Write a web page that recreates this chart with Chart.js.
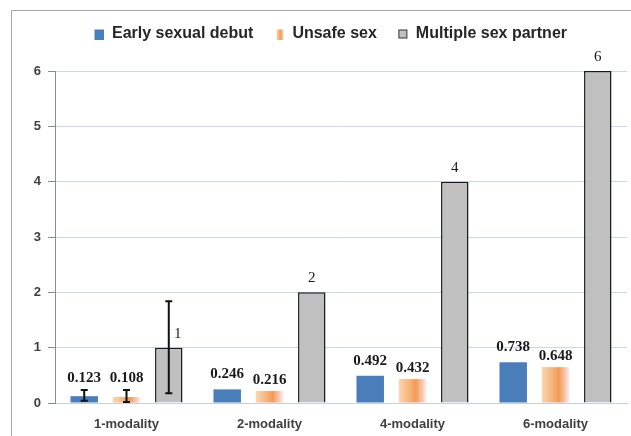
<!DOCTYPE html>
<html>
<head>
<meta charset="utf-8">
<script src="https://cdn.jsdelivr.net/npm/chart.js@4/dist/chart.umd.min.js"></script>
<style>
  html, body { margin: 0; padding: 0; background: #fff; overflow: hidden; }
  canvas { display: block; }
</style>
</head>
<body>
<canvas id="chart" width="631" height="436"></canvas>
<script>
// ------------------------------------------------------------------
// Data
// ------------------------------------------------------------------
const categories = ['1-modality', '2-modality', '4-modality', '6-modality'];
const seriesNames = ['Early sexual debut', 'Unsafe sex', 'Multiple sex partner'];

const earlyDebut = [0.123, 0.246, 0.492, 0.738];
const unsafeSex  = [0.108, 0.216, 0.432, 0.648];
const multiple   = [1, 2, 4, 6];

// [low, high] error ranges, only shown for the first category
const earlyErr    = [[0.04, 0.235], null, null, null];
const unsafeErr   = [[0.02, 0.235], null, null, null];
const multipleErr = [[0.175, 1.84], null, null, null];

const yTicks = [0, 1, 2, 3, 4, 5, 6];

// ------------------------------------------------------------------
// Styles
// ------------------------------------------------------------------
const BLUE = '#4a7ebb';
const GRAY = '#c0c0c0';

function orangeGradient(ctx, x0, x1) {
  const g = ctx.createLinearGradient(x0, 0, x1, 0);
  g.addColorStop(0,    '#fbd6b3');
  g.addColorStop(0.3,  '#f8bc86');
  g.addColorStop(0.62, '#f39a55');
  g.addColorStop(0.85, '#f9c7ad');
  g.addColorStop(1,    '#fdecef');
  return g;
}

function legendIcon(kind) {
  const c = document.createElement('canvas');
  c.width = 11; c.height = 11;
  const g = c.getContext('2d');
  if (kind === 0) {
    g.fillStyle = BLUE;
    g.fillRect(1, 1, 10, 10);
  } else if (kind === 1) {
    g.fillStyle = orangeGradient(g, 2, 10);
    g.fillRect(3, 1, 7, 10);
  } else {
    g.fillStyle = GRAY;
    g.fillRect(1.5, 1.5, 8, 8);
    g.strokeStyle = '#333';
    g.lineWidth = 1;
    g.strokeRect(1.5, 1.5, 8, 8);
  }
  return c;
}

// ------------------------------------------------------------------
// Plugins
// ------------------------------------------------------------------
const frame = {
  id: 'frame',
  beforeDraw(chart) {
    const ctx = chart.ctx;
    ctx.save();
    ctx.strokeStyle = '#a6a6a6';
    ctx.lineWidth = 1;
    ctx.beginPath();
    ctx.moveTo(11.5, 436);
    ctx.lineTo(11.5, 10.5);
    ctx.lineTo(631, 10.5);
    ctx.stroke();
    ctx.restore();
  }
};

const orangeBars = {
  id: 'orangeBars',
  beforeDatasetDraw(chart, args) {
    if (args.index !== 1) return;
    const ctx = chart.ctx;
    ctx.save();
    args.meta.data.forEach(bar => {
      const x0 = bar.x - bar.width / 2;
      ctx.fillStyle = orangeGradient(ctx, x0, x0 + bar.width);
      ctx.fillRect(x0, bar.y, bar.width, bar.base - bar.y);
    });
    ctx.restore();
    return false;
  }
};

const extras = {
  id: 'extras',
  afterDatasetsDraw(chart) {
    const ctx = chart.ctx;
    const y = chart.scales.y;
    ctx.save();
    chart.data.datasets.forEach((ds, di) => {
      const meta = chart.getDatasetMeta(di);
      meta.data.forEach((bar, i) => {
        const r = ds.errorRanges[i];
        let top = bar.y;
        if (r) {
          const yl = y.getPixelForValue(r[0]);
          const yh = y.getPixelForValue(r[1]);
          ctx.strokeStyle = '#111';
          ctx.lineWidth = 2;
          ctx.beginPath();
          ctx.moveTo(bar.x, yl); ctx.lineTo(bar.x, yh);
          ctx.moveTo(bar.x - 3.5, yl); ctx.lineTo(bar.x + 3.5, yl);
          ctx.moveTo(bar.x - 3.5, yh); ctx.lineTo(bar.x + 3.5, yh);
          ctx.stroke();
          top = Math.min(top, yh);
        }
        ctx.fillStyle = '#1a1a1a';
        ctx.textAlign = 'center';
        ctx.textBaseline = 'middle';
        if (di === 2) {
          ctx.font = '15px "Liberation Serif", "Times New Roman", serif';
          const lx = r ? bar.x + 9 : bar.x;
          ctx.fillText(String(ds.data[i]), lx, bar.y - 14);
        } else {
          ctx.font = 'bold 15px "Liberation Serif", "Times New Roman", serif';
          const off = r ? 12 : (di === 0 ? 15 : 11);
          ctx.fillText(ds.data[i].toFixed(3), bar.x, top - off);
        }
      });
    });
    ctx.restore();
  }
};

// Legend takes the whole band above the plot; nudge its centring a bit left
const legendBox = {
  id: 'legendBox',
  beforeInit(chart) {
    const fit = chart.legend.fit;
    chart.legend.fit = function () {
      fit.call(this);
      this.height = 66;
    };
  },
  afterLayout(chart) {
    chart.legend.left = 34;
  }
};

// ------------------------------------------------------------------
// Chart
// ------------------------------------------------------------------
const sansBold = { family: '"Liberation Sans", Arial, sans-serif', weight: 'bold' };

new Chart(document.getElementById('chart'), {
  type: 'bar',
  data: {
    labels: categories,
    datasets: [
      { label: seriesNames[0], data: earlyDebut, backgroundColor: BLUE, borderWidth: 0, errorRanges: earlyErr },
      { label: seriesNames[1], data: unsafeSex, backgroundColor: '#f5a866', borderWidth: 0, errorRanges: unsafeErr },
      { label: seriesNames[2], data: multiple, backgroundColor: GRAY, borderColor: '#1a1a1a', borderWidth: 1.5, errorRanges: multipleErr },
    ],
  },
  options: {
    responsive: false,
    animation: false,
    events: [],
    layout: { padding: { left: 0, right: 4, top: 5, bottom: 0 } },
    datasets: { bar: { categoryPercentage: 0.887, barPercentage: 0.65 } },
    plugins: {
      tooltip: { enabled: false },
      legend: {
        position: 'top',
        fullSize: false,
        labels: {
          usePointStyle: true,
          pointStyleWidth: 10,
          padding: 21,
          color: '#262626',
          font: { ...sansBold, size: 16 },
          generateLabels: chart => chart.data.datasets.map((ds, i) => ({
            text: ds.label,
            pointStyle: legendIcon(i),
            fillStyle: 'transparent',
            strokeStyle: 'transparent',
            lineWidth: 0,
            hidden: false,
            datasetIndex: i,
            fontColor: '#262626',
          })),
        },
      },
    },
    scales: {
      x: {
        grid: { display: false, drawTicks: false },
        border: { display: true, color: '#c3cfe2', width: 1 },
        ticks: { color: '#404040', font: { ...sansBold, size: 13 }, padding: 14 },
        afterFit: s => { s.height = 33; },
      },
      y: {
        min: 0,
        max: 6,
        afterBuildTicks: s => { s.ticks = yTicks.map(v => ({ value: v })); },
        grid: { color: '#c9d6ec', lineWidth: 1, tickColor: '#8c8c8c', tickLength: 7 },
        border: { display: true, color: '#8c8c8c', width: 1 },
        ticks: { color: '#404040', font: { ...sansBold, size: 13 }, padding: 7 },
        afterFit: s => { s.width = 55; },
      },
    },
  },
  plugins: [frame, legendBox, orangeBars, extras],
});
</script>
</body>
</html>
